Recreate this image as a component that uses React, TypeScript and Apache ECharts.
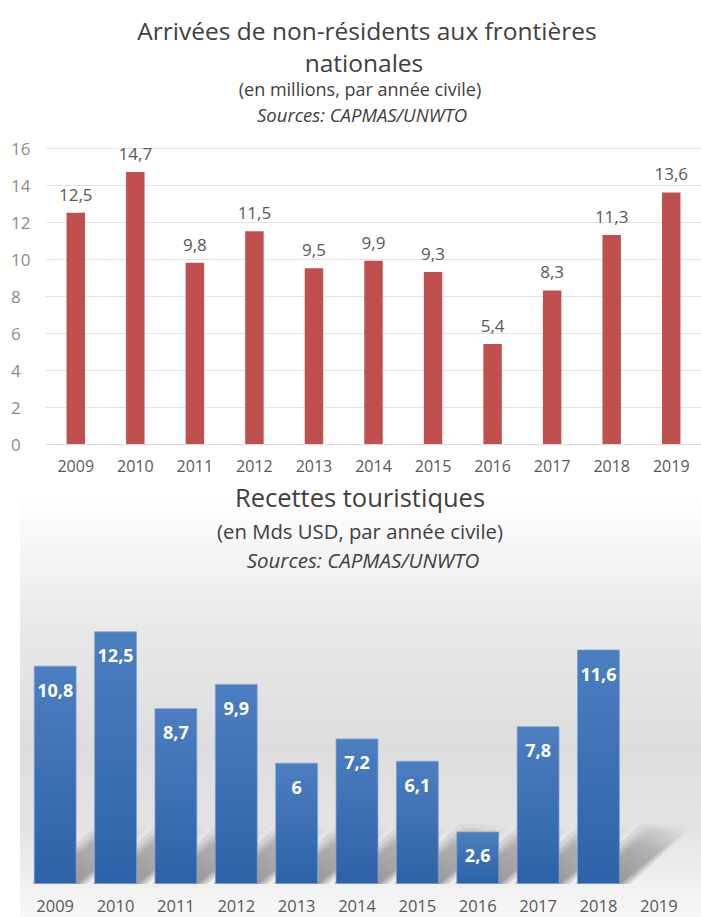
import React, { useEffect, useRef } from 'react';
import * as echarts from 'echarts';

const years = ['2009', '2010', '2011', '2012', '2013', '2014', '2015', '2016', '2017', '2018', '2019'];
const arrivals = [12.5, 14.7, 9.8, 11.5, 9.5, 9.9, 9.3, 5.4, 8.3, 11.3, 13.6];
const receipts: (number | null)[] = [10.8, 12.5, 8.7, 9.9, 6, 7.2, 6.1, 2.6, 7.8, 11.6, null];

const arrivalsMin = 0;
const arrivalsMax = 16;
const arrivalsStep = 2;

const title1a = 'Arrivées de non-résidents aux frontières';
const title1b = 'nationales';
const sub1 = '(en millions, par année civile)';
const source = 'Sources: CAPMAS/UNWTO';
const title2 = 'Recettes touristiques';
const sub2 = '(en Mds USD, par année civile)';

const FONT = '"Open Sans", "Noto Sans", sans-serif';
const fmt = (v: number) => String(v).replace('.', ',');

export default function App() {
  const ref = useRef<HTMLDivElement>(null);
  useEffect(() => {
    if (!ref.current) return;
    const chart = echarts.init(ref.current, null, { renderer: 'svg' });
    const txt = (text: string, x: number, y: number, size: number, italic = false) => ({
      type: 'text',
      x,
      y,
      z: 10,
      style: {
        text,
        fontSize: size,
        fontFamily: FONT,
        fontStyle: italic ? 'italic' : 'normal',
        fill: '#404040',
        textAlign: 'center',
        textVerticalAlign: 'middle',
      },
    });
    chart.setOption({
      animation: false,
      backgroundColor: '#ffffff',
      graphic: [
        {
          type: 'rect',
          z: -10,
          shape: { x: 20, y: 495, width: 681, height: 422 },
          style: {
            fill: new echarts.graphic.LinearGradient(0, 0, 0, 1, [
              { offset: 0, color: '#ffffff' },
              { offset: 0.3, color: '#e9e9e9' },
              { offset: 0.6, color: '#dddddd' },
              { offset: 0.8, color: '#e4e4e4' },
              { offset: 1, color: '#f8f8f8' },
            ]),
          },
        },
        txt(title1a, 367, 30, 24.5),
        txt(title1b, 364, 62, 24.5),
        txt(sub1, 360, 89, 18),
        txt(source, 362, 114, 18.5, true),
        txt(title2, 360, 497, 25.5),
        txt(sub2, 360, 531, 20.3),
        txt(source, 363, 560, 20.5, true),
      ],
      grid: [
        { left: 46, right: -9, top: 148, bottom: 473, containLabel: false },
        { left: 25, right: 12, top: 601, bottom: 33, containLabel: false },
      ],
      xAxis: [
        {
          type: 'category',
          gridIndex: 0,
          data: years,
          axisLine: { show: true, lineStyle: { color: '#d9d9d9' } },
          axisTick: { show: false },
          axisLabel: { color: '#595959', fontSize: 16, fontFamily: FONT, margin: 14 },
        },
        {
          type: 'category',
          gridIndex: 1,
          data: years,
          axisLine: { show: false },
          axisTick: { show: false },
          axisLabel: { color: '#595959', fontSize: 16.5, fontFamily: FONT, margin: 13 },
        },
      ],
      yAxis: [
        {
          type: 'value',
          gridIndex: 0,
          min: arrivalsMin,
          max: arrivalsMax,
          interval: arrivalsStep,
          axisLine: { show: false },
          axisTick: { show: false },
          splitLine: { lineStyle: { color: '#e3e3e3' } },
          axisLabel: { color: '#8c8c8c', fontSize: 17, fontFamily: FONT, align: 'left', margin: 35 },
        },
        {
          type: 'value',
          gridIndex: 1,
          min: 0,
          max: 14,
          show: false,
          splitLine: { show: false },
        },
      ],
      series: [
        {
          type: 'bar',
          xAxisIndex: 0,
          yAxisIndex: 0,
          data: arrivals,
          barWidth: '31%',
          itemStyle: { color: '#c0504d' },
          label: {
            show: true,
            position: 'top',
            distance: 10,
            color: '#595959',
            fontSize: 17,
            fontFamily: FONT,
            formatter: (p: any) => fmt(p.value),
          },
        },
        {
          type: 'custom',
          xAxisIndex: 1,
          yAxisIndex: 1,
          z: 1,
          data: receipts.map((v, i) => [i, v]),
          renderItem: (params: any, api: any) => {
            const v = api.value(1);
            if (v == null || isNaN(v)) return null;
            const base = api.coord([api.value(0), 0]);
            const band = api.size([1, 0])[0];
            const bw = band * 0.71;
            const x0 = base[0] - bw / 2;
            const x1 = base[0] + bw / 2;
            const yb = base[1];
            const dx = 66;
            const dy = 54;
            const layers = [10, 6, 3, 0];
            return {
              type: 'group',
              children: layers.map((e) => ({
                type: 'polygon',
                shape: {
                  points: [
                    [x0 + 8 - e, yb],
                    [x1 + e, yb],
                    [x1 + dx + e, yb - dy - e * 0.6],
                    [x0 + dx + 8 - e, yb - dy - e * 0.6],
                  ],
                },
                style: {
                  fill: new echarts.graphic.LinearGradient(0, 1, 1, 0, [
                    { offset: 0, color: 'rgba(70,70,70,0.2)' },
                    { offset: 0.6, color: 'rgba(100,100,100,0.13)' },
                    { offset: 1, color: 'rgba(140,140,140,0)' },
                  ]),
                },
              })),
            };
          },
        },
        {
          type: 'bar',
          xAxisIndex: 1,
          yAxisIndex: 1,
          z: 3,
          data: receipts,
          barWidth: '71%',
          itemStyle: {
            color: new echarts.graphic.LinearGradient(0, 0, 0, 1, [
              { offset: 0, color: '#4b7fc0' },
              { offset: 1, color: '#2e62a8' },
            ]),
            borderColor: 'rgba(120,160,215,0.7)',
            borderWidth: 1,
          },
          label: {
            show: true,
            position: 'insideTop',
            distance: 15,
            color: '#ffffff',
            fontSize: 18,
            fontWeight: 'bold',
            fontFamily: FONT,
            formatter: (p: any) => fmt(p.value),
          },
        },
      ],
    });
    return () => chart.dispose();
  }, []);
  return (
    <div
      ref={ref}
      style={{ position: 'fixed', left: 0, top: 0, width: 701, height: 917 }}
    />
  );
}
